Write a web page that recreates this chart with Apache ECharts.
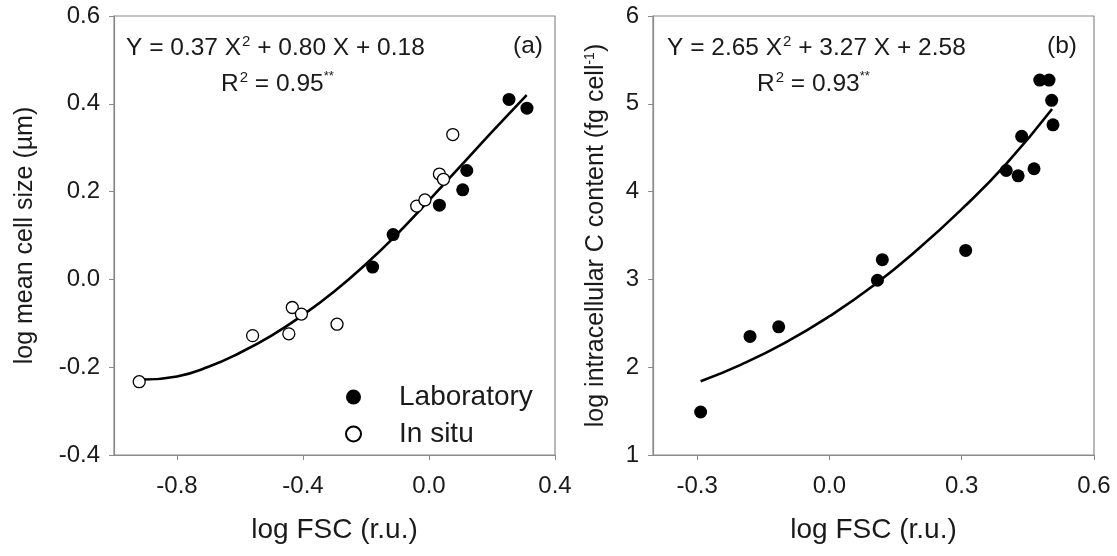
<!DOCTYPE html>
<html><head><meta charset="utf-8">
<script src="https://cdn.jsdelivr.net/npm/echarts@6/dist/echarts.min.js"></script>
<style>html,body{margin:0;padding:0;background:#fff}#c{width:1117px;height:556px}</style>
</head><body><div id="c"></div>
<script>
// Panel (a): log FSC vs log mean cell size
const labA = [[-0.179,0.028],[-0.114,0.102],[0.033,0.169],[0.107,0.204],[0.12,0.248],[0.254,0.41],[0.311,0.39]];
const insituA = [[-0.92,-0.233],[-0.56,-0.128],[-0.445,-0.124],[-0.434,-0.064],[-0.405,-0.079],[-0.292,-0.102],[-0.039,0.167],[-0.013,0.181],[0.033,0.24],[0.046,0.228],[0.0755,0.33]];
const fitA = [[-0.905,-0.228],[-0.8,-0.221],[-0.7,-0.199],[-0.6,-0.167],[-0.5,-0.128],[-0.4,-0.081],[-0.3,-0.027],[-0.2,0.035],[-0.1,0.104],[0,0.18],[0.1,0.258],[0.2,0.336],[0.31,0.42]];
// Panel (b): log FSC vs log intracellular C content
const labB = [[-0.292,1.49],[-0.18,2.35],[-0.115,2.46],[0.109,2.99],[0.12,3.225],[0.309,3.33],[0.401,4.24],[0.428,4.18],[0.436,4.63],[0.464,4.26],[0.477,5.27],[0.498,5.27],[0.504,5.04],[0.507,4.76]];
const fitB = [[-0.292,1.84],[-0.2,2.03],[-0.1,2.28],[0,2.58],[0.1,2.93],[0.2,3.34],[0.3,3.80],[0.4,4.31],[0.505,4.94]];
// ticks
const xTicksA = [-0.8,-0.4,0.0,0.4];
const yTicksA = [-0.4,-0.2,0.0,0.2,0.4,0.6];
const xTicksB = [-0.3,0.0,0.3,0.6];
const yTicksB = [1,2,3,4,5,6];
// texts
const eqA = 'Y = 0.37 X{sup|2} + 0.80 X + 0.18';
const r2A = 'R{sup|2} = 0.95{star|**}';
const eqB = 'Y = 2.65 X{sup|2} + 3.27 X + 2.58';
const r2B = 'R{sup|2} = 0.93{star|**}';

const FONT = '"Liberation Sans", Arial, sans-serif';
const TXT = '#1a1a1a';
const AX = '#8a8a8a';
const chart = echarts.init(document.getElementById('c'));

function xAxis(gi, min, max, ticks) {
  return {
    type: 'value', gridIndex: gi, min: min, max: max,
    name: 'log FSC (r.u.)', nameLocation: 'middle', nameGap: 61,
    nameTextStyle: {fontFamily: FONT, fontSize: 28, color: TXT},
    axisLine: {show: true, onZero: false, lineStyle: {color: AX, width: 1.2}},
    axisTick: {show: true, inside: false, length: 5, customValues: ticks, lineStyle: {color: AX}},
    axisLabel: {customValues: ticks, margin: 19, fontFamily: FONT, fontSize: 24, color: TXT,
      formatter: v => (Math.abs(v) < 1e-9 ? 0 : v).toFixed(1)},
    splitLine: {show: false}
  };
}
function yAxis(gi, min, max, ticks, name, gap, dec) {
  return {
    type: 'value', gridIndex: gi, min: min, max: max,
    name: name, nameLocation: 'middle', nameGap: gap, nameRotate: 90,
    nameTextStyle: {fontFamily: FONT, fontSize: 25, color: TXT,
      rich: {sup: {fontSize: 14, verticalAlign: 'top', padding: [0,0,12,0], fontFamily: FONT, color: TXT}}},
    axisLine: {show: true, onZero: false, lineStyle: {color: AX, width: 1.2}},
    axisTick: {show: true, inside: false, length: 5, customValues: ticks, lineStyle: {color: AX}},
    axisLabel: {customValues: ticks, margin: 14, fontFamily: FONT, fontSize: 24, color: TXT,
      formatter: v => (Math.abs(v) < 1e-9 ? 0 : v).toFixed(dec)},
    splitLine: {show: false}
  };
}
const richEq = {
  sup: {fontSize: 15, verticalAlign: 'top', padding: [0,0,14,1], fontFamily: FONT, fill: TXT, color: TXT},
  star: {fontSize: 13, padding: [0,0,16,0], fontFamily: FONT, fill: TXT, color: TXT}
};
function txt(x, y, t, size) {
  return {type: 'text', left: x, top: y, silent: true,
    style: {text: t, fontFamily: FONT, fontSize: size || 24, fill: TXT, rich: richEq}};
}

chart.setOption({
  backgroundColor: '#fff',
  animation: false,
  grid: [
    {left: 114, top: 16, width: 441, height: 439, show: true, borderColor: AX, borderWidth: 1.2, backgroundColor: 'transparent'},
    {left: 653, top: 16, width: 441, height: 439, show: true, borderColor: AX, borderWidth: 1.2, backgroundColor: 'transparent'}
  ],
  xAxis: [xAxis(0, -1.0, 0.4, xTicksA), xAxis(1, -0.4, 0.6, xTicksB)],
  yAxis: [
    yAxis(0, -0.4, 0.6, yTicksA, 'log mean cell size (µm)', 76, 1),
    yAxis(1, 1, 6, yTicksB, 'log intracellular C content (fg cell{sup|-1})', 44, 0)
  ],
  legend: {
    data: ['Laboratory', 'In situ'], orient: 'vertical', left: 340, top: 378,
    itemWidth: 15, itemHeight: 15, itemGap: 9,
    textStyle: {fontFamily: FONT, fontSize: 28, color: TXT, padding: [0,0,0,33]}
  },
  graphic: [
    txt(126, 34, eqA, 24.5), txt(513, 34, '(a)', 24.5), txt(221, 70, r2A, 24.5),
    txt(667, 34, eqB, 24.5), txt(1047, 34, '(b)', 24.5), txt(757, 70, r2B, 24.5)
  ],
  series: [
    {name: 'fitA', type: 'line', xAxisIndex: 0, yAxisIndex: 0, data: fitA, smooth: true, symbol: 'none',
      lineStyle: {color: '#000', width: 2.6}, z: 2, silent: true},
    {name: 'Laboratory', type: 'scatter', xAxisIndex: 0, yAxisIndex: 0, data: labA, symbol: 'circle', symbolSize: 13,
      itemStyle: {color: '#000', borderColor: '#000', borderWidth: 0, opacity: 1}, z: 3},
    {name: 'In situ', type: 'scatter', xAxisIndex: 0, yAxisIndex: 0, data: insituA, symbol: 'circle', symbolSize: 12,
      itemStyle: {color: '#fff', borderColor: '#000', borderWidth: 1.3, opacity: 1}, z: 3},
    {name: 'fitB', type: 'line', xAxisIndex: 1, yAxisIndex: 1, data: fitB, smooth: true, symbol: 'none',
      lineStyle: {color: '#000', width: 2.6}, z: 2, silent: true},
    {name: 'Laboratory (b)', type: 'scatter', xAxisIndex: 1, yAxisIndex: 1, data: labB, symbol: 'circle', symbolSize: 13,
      itemStyle: {color: '#000', opacity: 1}, z: 3}
  ]
});
</script>
</body></html>
